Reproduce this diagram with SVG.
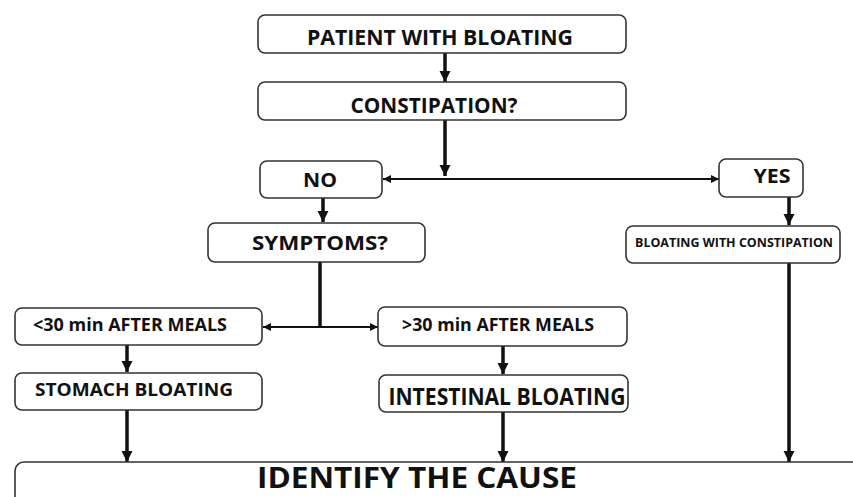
<svg xmlns="http://www.w3.org/2000/svg" width="853" height="497" viewBox="0 0 853 497">
<defs>
<style>
.box{fill:#fff;stroke:#333;stroke-width:1.6}
.t{font-family:"Open Sans",Lato,"Liberation Sans",sans-serif;font-weight:700;fill:#111;text-anchor:middle}
.thick{stroke:#111;stroke-width:3.5;fill:none}
.thin{stroke:#111;stroke-width:2.2;fill:none}
</style>
<marker id="ah" viewBox="0 0 10 10" refX="10" refY="5" markerWidth="11" markerHeight="12" markerUnits="userSpaceOnUse" orient="auto-start-reverse"><path d="M0,0 L10,5 L0,10 z" fill="#111"/></marker>
<marker id="ahs" viewBox="0 0 10 10" refX="10" refY="5" markerWidth="10" markerHeight="8" markerUnits="userSpaceOnUse" orient="auto-start-reverse"><path d="M0,0 L10,5 L0,10 z" fill="#111"/></marker>
</defs>
<rect width="853" height="497" fill="#fff"/>
<g id="connectors">
<line class="thick" x1="445" y1="53" x2="445" y2="82" marker-end="url(#ah)"/>
<line class="thick" x1="445" y1="120" x2="445" y2="176" marker-end="url(#ah)"/>
<line class="thin" x1="383" y1="179" x2="719" y2="179" marker-start="url(#ahs)" marker-end="url(#ahs)"/>
<line class="thick" x1="323" y1="198" x2="323" y2="222" marker-end="url(#ah)"/>
<line class="thick" x1="789" y1="197" x2="789" y2="225" marker-end="url(#ah)"/>
<line class="thick" x1="320" y1="262" x2="320" y2="327"/>
<line class="thin" x1="263" y1="327" x2="378" y2="327" marker-start="url(#ahs)" marker-end="url(#ahs)"/>
<line class="thick" x1="127" y1="345" x2="127" y2="372" marker-end="url(#ah)"/>
<line class="thick" x1="503" y1="346" x2="503" y2="374" marker-end="url(#ah)"/>
<line class="thick" x1="127" y1="410" x2="127" y2="462" marker-end="url(#ah)"/>
<line class="thick" x1="503" y1="412" x2="503" y2="462" marker-end="url(#ah)"/>
<line class="thick" x1="789" y1="263" x2="789" y2="462" marker-end="url(#ah)"/>
</g>
<g id="patient">
<rect class="box" x="258" y="15" width="368" height="38" rx="7"/>
<text class="t" x="440" y="45" font-size="21" textLength="266" lengthAdjust="spacingAndGlyphs">PATIENT WITH BLOATING</text>
</g>
<g id="constipation">
<rect class="box" x="258" y="82" width="368" height="38" rx="7"/>
<text class="t" x="434" y="113" font-size="21" textLength="167" lengthAdjust="spacingAndGlyphs">CONSTIPATION?</text>
</g>
<g id="no">
<rect class="box" x="260" y="161" width="122" height="37" rx="7"/>
<text class="t" x="320" y="187" font-size="19" textLength="34" lengthAdjust="spacingAndGlyphs">NO</text>
</g>
<g id="yes">
<rect class="box" x="719" y="159" width="84" height="38" rx="7"/>
<text class="t" x="772" y="183" font-size="20" textLength="37" lengthAdjust="spacingAndGlyphs">YES</text>
</g>
<g id="symptoms">
<rect class="box" x="208" y="223" width="217" height="39" rx="7"/>
<text class="t" x="320" y="250" font-size="19" textLength="136" lengthAdjust="spacingAndGlyphs">SYMPTOMS?</text>
</g>
<g id="bloating-constipation">
<rect class="box" x="626" y="226" width="214" height="37" rx="7"/>
<text class="t" x="734" y="247" font-size="13" textLength="198" lengthAdjust="spacingAndGlyphs">BLOATING WITH CONSTIPATION</text>
</g>
<g id="lt30">
<rect class="box" x="15" y="308" width="247" height="37" rx="7"/>
<text class="t" x="130" y="331" font-size="18" textLength="194" lengthAdjust="spacingAndGlyphs">&lt;30 min AFTER MEALS</text>
</g>
<g id="gt30">
<rect class="box" x="378" y="307" width="249" height="39" rx="7"/>
<text class="t" x="498" y="331" font-size="18" textLength="192" lengthAdjust="spacingAndGlyphs">&gt;30 min AFTER MEALS</text>
</g>
<g id="stomach">
<rect class="box" x="15" y="373" width="247" height="37" rx="7"/>
<text class="t" x="134" y="396" font-size="18" textLength="198" lengthAdjust="spacingAndGlyphs">STOMACH BLOATING</text>
</g>
<g id="intestinal">
<rect class="box" x="379" y="375" width="249" height="37" rx="7"/>
<text class="t" x="507" y="405" font-size="23" textLength="237" lengthAdjust="spacingAndGlyphs">INTESTINAL BLOATING</text>
</g>
<g id="identify">
<rect class="box" x="15" y="462" width="900" height="70" rx="9"/>
<text class="t" x="417" y="488" font-size="28" textLength="320" lengthAdjust="spacingAndGlyphs">IDENTIFY THE CAUSE</text>
</g>
</svg>
